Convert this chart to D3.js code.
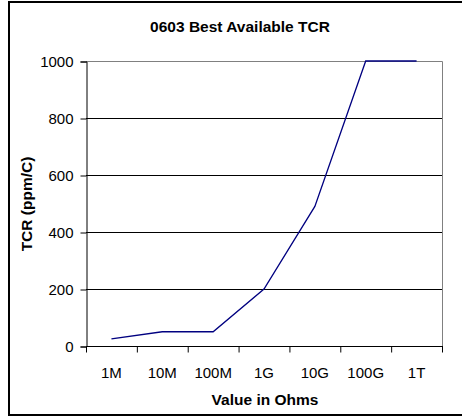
<!DOCTYPE html>
<html><head><meta charset="utf-8">
<script src="https://cdn.jsdelivr.net/npm/d3@7"></script>
<style>body{margin:0;background:#fff}svg{display:block;font-family:"Liberation Sans",Arial,sans-serif}</style>
</head><body>
<svg id="c" width="462" height="416"></svg>
<script>
const categories = ["1M","10M","100M","1G","10G","100G","1T"];
const tcrValues = [25, 50, 50, 200, 490, 1000, 1000];
const yTicks = [0, 200, 400, 600, 800, 1000];
const titleText = "0603 Best Available TCR";
const xTitle = "Value in Ohms";
const yTitle = "TCR (ppm/C)";

const svg = d3.select("#c");
// outer border
svg.append("rect").attr("x",9).attr("y",2).attr("width",470).attr("height",413)
  .attr("fill","#fff").attr("stroke","#000").attr("stroke-width",2);

const L=86, R=442, T=61, B=346;
const x = d3.scaleBand().domain(categories).range([L,R]).padding(0);
const y = d3.scaleLinear().domain([0,1000]).range([B,T]);

// gridlines
svg.append("g").selectAll("line").data(yTicks.filter(v=>v>0 && v<1000)).join("line")
  .attr("x1",L).attr("x2",R).attr("y1",d=>y(d)+0.5).attr("y2",d=>y(d)+0.5)
  .attr("stroke","#000").attr("stroke-width",1);
// plot border top/right
svg.append("path").attr("d",`M${L},${T+0.5}H${R+0.5}V${B}`).attr("fill","none")
  .attr("stroke","#808080").attr("stroke-width",1);

// y axis
const ya = svg.append("g").attr("transform",`translate(${L+0.5},0.5)`)
  .call(d3.axisLeft(y).tickValues(yTicks).tickFormat(d3.format("d")).tickSize(6).tickPadding(7));
ya.select(".domain").attr("stroke","#000");
ya.selectAll("line").attr("stroke","#000");
ya.selectAll("text").attr("font-size",15).attr("fill","#000").attr("font-family","Liberation Sans, Arial");

// x axis with ticks between categories
const xa = svg.append("g").attr("transform",`translate(0,${B+0.5})`);
xa.append("line").attr("x1",L).attr("x2",R+1).attr("y1",0).attr("y2",0).attr("stroke","#000");
const bounds = categories.map(c=>x(c)).concat([R]);
xa.selectAll("line.t").data(bounds).join("line").attr("class","t")
  .attr("x1",d=>d+0.5).attr("x2",d=>d+0.5).attr("y1",0).attr("y2",6).attr("stroke","#000");
xa.selectAll("text").data(categories).join("text")
  .attr("x",d=>x(d)+x.bandwidth()/2).attr("y",31).attr("text-anchor","middle")
  .attr("font-size",15).attr("fill","#000").text(d=>d);

// line
const line = d3.line().x((d,i)=>x(categories[i])+x.bandwidth()/2).y(d=>y(d));
svg.append("path").datum(tcrValues).attr("d",line).attr("fill","none")
  .attr("stroke","#000080").attr("stroke-width",1.3);

// titles
svg.append("text").attr("x",240).attr("y",32).attr("text-anchor","middle")
  .attr("font-size",15.5).attr("font-weight","bold").text(titleText);
svg.append("text").attr("x",265).attr("y",405).attr("text-anchor","middle")
  .attr("font-size",15.5).attr("font-weight","bold").text(xTitle);
svg.append("text").attr("transform","translate(32,204) rotate(-90)").attr("text-anchor","middle")
  .attr("font-size",15.5).attr("font-weight","bold").text(yTitle);
</script>
</body></html>
